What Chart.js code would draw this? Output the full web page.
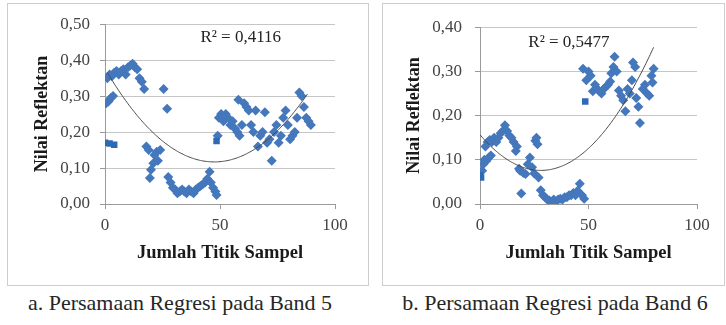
<!DOCTYPE html>
<html>
<head>
<meta charset="utf-8">
<script src="https://cdn.jsdelivr.net/npm/chart.js@4/dist/chart.umd.min.js"></script>
<style>
  html, body { margin: 0; padding: 0; background: #fff; width: 726px; height: 325px; overflow: hidden; }
  .box { position: absolute; border: 1px solid #cdcdcd; box-sizing: border-box; }
  .box canvas { position: absolute; left: 0; top: 0; }
  .cap { position: absolute; top: 290px; font-family: 'Liberation Serif', 'Times New Roman', Tinos, 'DejaVu Serif', serif;
         font-size: 22px; color: #262626; white-space: nowrap; transform: translateX(-50%); line-height: 26px; }
</style>
</head>
<body>
<div class="box" style="left:7px;top:3px;width:362px;height:283px;"><canvas id="band5" width="360" height="281"></canvas></div>
<div class="box" style="left:382px;top:3px;width:343px;height:283px;"><canvas id="band6" width="341" height="281"></canvas></div>
<div class="cap" id="capA" style="left:180px;"></div>
<div class="cap" id="capB" style="left:555px;"></div>

<script>
// Band 5: sample number vs. reflectance
const band5X = [0.5, 1.5, 2.5, 3.5,
  1, 2, 3, 4, 5, 6, 7, 8, 9, 10, 11, 12, 13, 14, 15, 16, 17,
  18, 19, 19.5, 20, 21, 21.5, 22.5, 24, 23,
  25.5, 27,
  27.5, 28.5, 29.5, 30.5, 31.5, 32.5, 33.5, 34.5, 35.5, 36.5, 37.5, 38.5, 39.5, 40.5, 41.5, 42.5, 43.5, 44.5, 45.5, 46, 47, 48, 48.5,
  49, 49.5, 50.5, 51.5, 52.5, 53.5, 54.5, 55.5, 56.5, 57.5, 58, 58.5, 59.5, 60.5, 61.5, 62.5, 63.5, 64.5, 65.5, 66.5, 67.5, 68.5, 69.5,
  70.5, 71.5, 72.5, 73.5, 74.5, 75.5, 76.5, 77.5, 78.5, 79.5, 80.5, 81.5, 82.5, 83.5, 84.5, 85.5, 86.5, 87.5, 88.5, 89.5];
const band5Y = [0.28, 0.285, 0.295, 0.30,
  0.35, 0.36, 0.355, 0.365, 0.37, 0.36, 0.37, 0.375, 0.36, 0.38, 0.385, 0.39, 0.38, 0.375, 0.35, 0.34, 0.32,
  0.16, 0.15, 0.072, 0.095, 0.113, 0.136, 0.145, 0.15, 0.12,
  0.32, 0.265,
  0.075, 0.06, 0.045, 0.04, 0.03, 0.035, 0.04, 0.035, 0.03, 0.04, 0.035, 0.03, 0.04, 0.045, 0.05, 0.055, 0.06, 0.07, 0.09, 0.06, 0.045, 0.035, 0.025,
  0.19, 0.24, 0.25, 0.23, 0.25, 0.24, 0.22, 0.23, 0.21, 0.20, 0.29, 0.19, 0.22, 0.28, 0.27, 0.26, 0.22, 0.20, 0.26, 0.16, 0.19, 0.20, 0.255,
  0.17, 0.18, 0.12, 0.20, 0.22, 0.17, 0.19, 0.24, 0.26, 0.22, 0.18, 0.19, 0.20, 0.24, 0.31, 0.30, 0.27, 0.24, 0.23, 0.22];
const band5MarkX = [0, 2, 4, 48.5];
const band5MarkY = [0.17, 0.168, 0.165, 0.175];
// polynomial trendline y = c0 + c1·x + c2·x², drawn over [from, to]
const band5Trend = [0.37647, -0.010925, 0.000115];
const band5TrendRange = [1, 88];

// Band 6: sample number vs. reflectance
const band6X = [1, 1.5, 2, 3, 4, 5, 2.5, 3.5, 4.5, 5.5, 6.5, 7.5, 8.5, 9.5, 10.5, 11.5, 12.5, 13.5, 14.5, 15.5, 16.5, 17,
  18, 18.5, 19, 20, 21, 22, 23, 24, 25, 25.5, 26, 26.5, 27,
  28, 29, 30, 31, 32, 33, 34, 35, 36, 37, 38, 39, 40, 41, 42, 43, 44, 45, 46, 47, 48,
  47.5, 49, 50, 51, 52, 53, 54, 55, 56, 57, 58, 59, 60, 60.5, 61.5, 62, 63, 64, 65, 66, 67, 68, 69, 70,
  70.5, 71.5, 72, 73, 73.7, 75, 76, 77, 78, 79, 79.5, 80];
const band6Y = [0.075, 0.09, 0.10, 0.098, 0.105, 0.11, 0.13, 0.14, 0.145, 0.14, 0.15, 0.14, 0.15, 0.16, 0.165, 0.178, 0.165, 0.155, 0.15, 0.14, 0.12, 0.13,
  0.08, 0.075, 0.024, 0.07, 0.068, 0.09, 0.105, 0.083, 0.069, 0.143, 0.15, 0.135, 0.06,
  0.031, 0.02, 0.015, 0.01, 0.008, 0.005, 0.01, 0.005, 0.01, 0.012, 0.01, 0.015, 0.015, 0.02, 0.02, 0.025, 0.02, 0.03, 0.046, 0.02, 0.012,
  0.306, 0.28, 0.30, 0.29, 0.255, 0.27, 0.26, 0.255, 0.25, 0.26, 0.265, 0.27, 0.277, 0.296, 0.31, 0.333, 0.30, 0.257, 0.245, 0.235, 0.21, 0.26, 0.25, 0.28,
  0.32, 0.31, 0.24, 0.22, 0.183, 0.26, 0.27, 0.25, 0.245, 0.29, 0.275, 0.306];
const band6MarkX = [0, 0.5, 48.5];
const band6MarkY = [0.065, 0.06, 0.232];
const band6Trend = [0.156752, -0.005768, 0.000103];
const band6TrendRange = [0, 80];

const r2Labels = ['R² = 0,4116', 'R² = 0,5477'];
const captions = ['a. Persamaan Regresi pada Band 5', 'b. Persamaan Regresi pada Band 6'];
const xTitle = 'Jumlah Titik Sampel';
const yTitle = 'Nilai Reflektan';

document.getElementById('capA').textContent = captions[0];
document.getElementById('capB').textContent = captions[1];

function trendPoints(c, range) {
  const pts = [];
  for (let x = range[0]; x <= range[1] + 1e-9; x += 0.5) pts.push({ x, y: c[0] + c[1] * x + c[2] * x * x });
  return pts;
}
const pairs = (xs, ys) => xs.map((x, i) => ({ x, y: ys[i] }));

const serif = "'Liberation Serif', 'Times New Roman', Tinos, 'DejaVu Serif', serif";

const r2Plugin = {
  id: 'r2label',
  afterDatasetsDraw(chart, args, opts) {
    const { ctx, scales: { x, y } } = chart;
    ctx.save();
    ctx.font = '17px ' + serif;
    ctx.fillStyle = '#222';
    ctx.textAlign = 'center';
    ctx.textBaseline = 'middle';
    ctx.fillText(opts.text, x.getPixelForValue(opts.x), y.getPixelForValue(opts.y));
    ctx.restore();
  }
};

function build(id, xs, ys, mx, my, trend, range, yMax, yStep, pad, yTickPad, yTitlePad, label) {
  new Chart(document.getElementById(id), {
    type: 'scatter',
    data: {
      datasets: [
        { data: trendPoints(trend, range), showLine: true, borderColor: '#4a4a4a', borderWidth: 1, pointRadius: 0, order: 0 },
        { data: pairs(mx, my), pointStyle: 'rect', pointRadius: 4.6, backgroundColor: '#2e6ab3', borderColor: '#2e6ab3', borderWidth: 0, order: 1 },
        { data: pairs(xs, ys), pointStyle: 'rectRot', pointRadius: 5, backgroundColor: '#4477bc', borderColor: '#4477bc', borderWidth: 0, order: 2 }
      ]
    },
    options: {
      responsive: false,
      animation: false,
      layout: { padding: pad },
      plugins: { legend: { display: false }, tooltip: { enabled: false }, r2label: label },
      scales: {
        x: {
          min: 0, max: 100,
          afterFit(s) { s.height = 81; },
          grid: { drawOnChartArea: false, drawTicks: true, tickLength: 5, color: '#9a9a9a' },
          border: { color: '#9a9a9a' },
          ticks: { stepSize: 50, padding: 6, color: '#444', font: { family: serif, size: 17 }, maxRotation: 0 },
          title: { display: true, text: xTitle, color: '#1a1a1a', font: { family: serif, size: 18.5, weight: 'bold' }, padding: { top: 0, bottom: 21 } }
        },
        y: {
          min: 0, max: yMax,
          afterFit(s) { s.width = 97; },
          grid: { color: '#c6c6c6', tickColor: '#9a9a9a', drawTicks: true, tickLength: 5 },
          border: { color: '#9a9a9a' },
          ticks: { stepSize: yStep, padding: yTickPad, color: '#444', font: { family: serif, size: 17 },
                   callback: v => v.toFixed(2).replace('.', ',') },
          title: { display: true, text: yTitle, color: '#1a1a1a', font: { family: serif, size: 18, weight: 'bold' }, padding: { top: yTitlePad, bottom: 0 } }
        }
      }
    },
    plugins: [r2Plugin]
  });
}

build('band5', band5X, band5Y, band5MarkX, band5MarkY, band5Trend, band5TrendRange, 0.5, 0.1,
      { top: 20, right: 33, bottom: 0, left: 0 }, 10, 24, { text: r2Labels[0], x: 59, y: 0.464 });
build('band6', band6X, band6Y, band6MarkX, band6MarkY, band6Trend, band6TrendRange, 0.4, 0.05,
      { top: 21, right: 27, bottom: 0, left: 0 }, 13, 21, { text: r2Labels[1], x: 41, y: 0.366 });
</script>
</body>
</html>
